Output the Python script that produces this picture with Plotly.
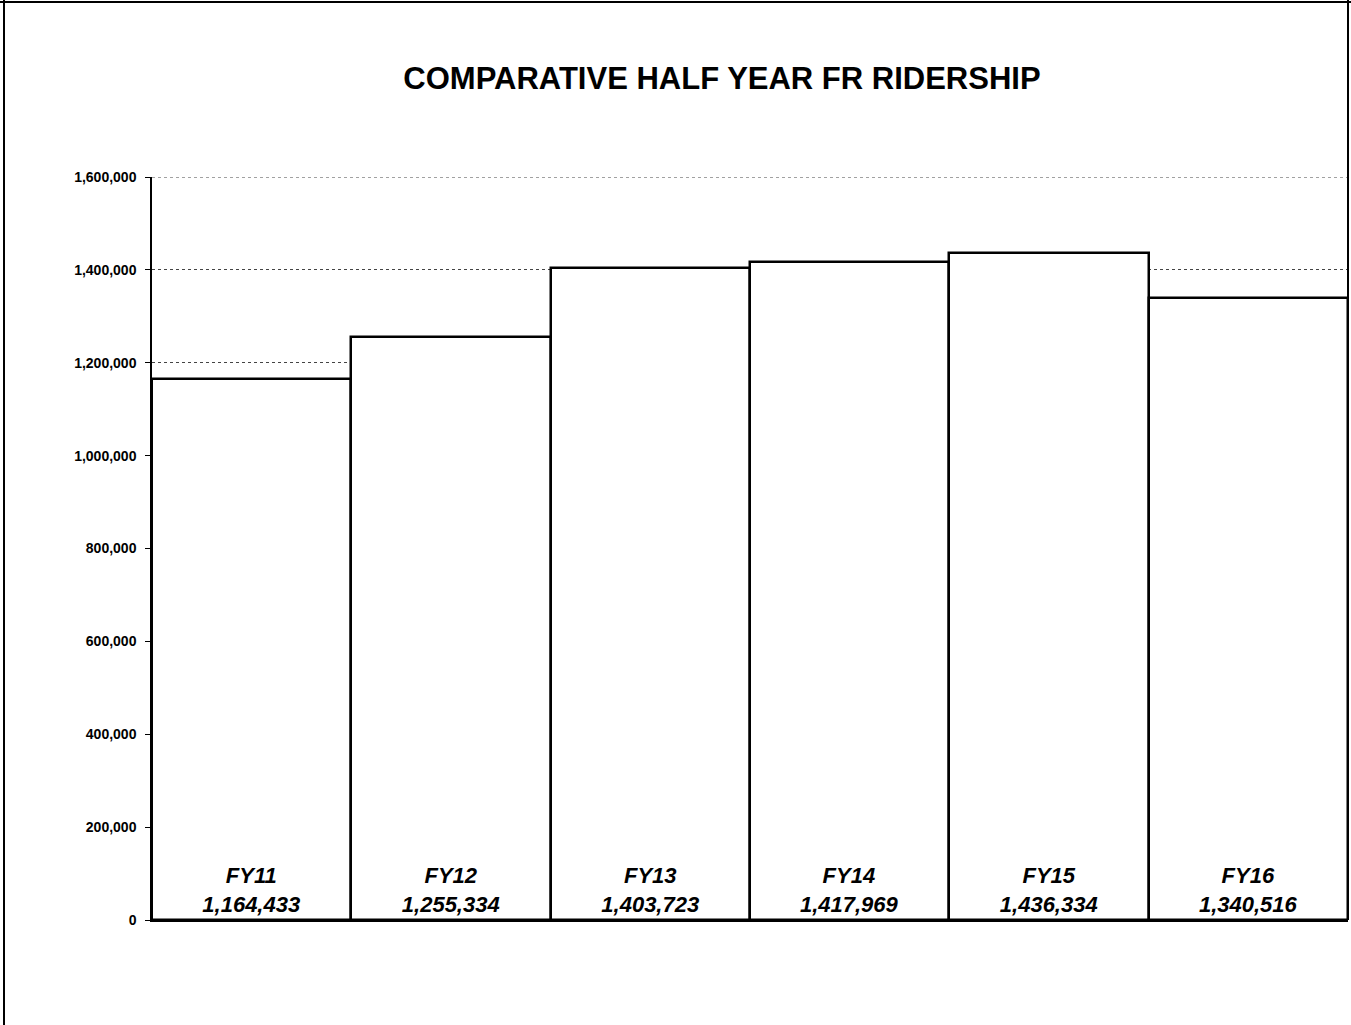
import plotly.graph_objects as go

categories = ["FY11", "FY12", "FY13", "FY14", "FY15", "FY16"]
ridership = [1164433, 1255334, 1403723, 1417969, 1436334, 1340516]
tick_values = [0, 200000, 400000, 600000, 800000, 1000000, 1200000, 1400000, 1600000]
tick_labels = ["0", "200,000", "400,000", "600,000", "800,000", "1,000,000",
               "1,200,000", "1,400,000", "1,600,000"]
title_text = "COMPARATIVE HALF YEAR FR RIDERSHIP"

W, H = 1351, 1025
L, R, T, B = 152, 3, 177, 105
pw = W - L - R
ph = H - T - B

labels = [f"<b><i>{c}<br>{v:,}</i></b>" for c, v in zip(categories, ridership)]

fig = go.Figure(go.Bar(
    x=categories, y=ridership,
    marker=dict(color="white", line=dict(color="black", width=2.5)),
    text=labels, textposition="inside", insidetextanchor="start",
    textangle=0, constraintext="none",
    textfont=dict(family="Liberation Sans, Arial", size=22, color="black"),
    hoverinfo="x+y",
))

def px_x(p):
    return (p - L) / pw

def px_y(p):
    return (H - B - p) / ph

fig.update_layout(
    width=W, height=H,
    margin=dict(l=L, r=R, t=T, b=B),
    paper_bgcolor="white", plot_bgcolor="white",
    bargap=0,
    showlegend=False,
    font=dict(family="Liberation Sans, Arial", color="black"),
    title=dict(text=f"<b>{title_text}</b>", xref="container", yref="container",
               x=722 / W, y=1 - 78 / H, xanchor="center", yanchor="middle",
               font=dict(size=31, family="Liberation Sans, Arial", color="black")),
    xaxis=dict(showticklabels=False, ticks="", showgrid=False,
               showline=True, linecolor="black", linewidth=1.5, zeroline=False),
    yaxis=dict(range=[0, 1600000], tickvals=tick_values, ticktext=tick_labels,
               tickfont=dict(size=14, family="Liberation Sans, Arial", color="black", weight="bold"),
               ticks="outside", ticklen=5, tickcolor="black", ticklabelstandoff=6,
               showline=True, linecolor="black", linewidth=1.5,
               showgrid=True, gridcolor="#444444", gridwidth=1, griddash="dot",
               zeroline=False),
    shapes=[
        dict(type="line", xref="paper", yref="y", layer="below",
             x0=0, x1=1, y0=tick_values[-1], y1=tick_values[-1],
             line=dict(color="#444444", width=1, dash="dot")),
        dict(type="line", xref="paper", yref="paper", layer="above",
             x0=px_x(0), x1=px_x(W), y0=px_y(2), y1=px_y(2),
             line=dict(color="black", width=2)),
        dict(type="line", xref="paper", yref="paper", layer="above",
             x0=px_x(4), x1=px_x(4), y0=px_y(0), y1=px_y(H),
             line=dict(color="black", width=2)),
        dict(type="line", xref="paper", yref="paper", layer="above",
             x0=px_x(1348), x1=px_x(1348), y0=px_y(0), y1=px_y(920),
             line=dict(color="black", width=2)),
    ],
)

fig.write_html("out.html")
